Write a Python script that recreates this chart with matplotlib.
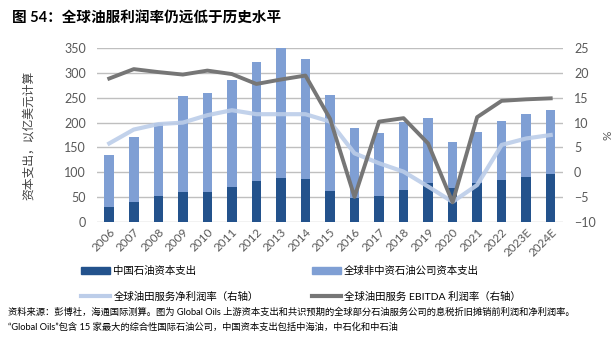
import numpy as np
import matplotlib
matplotlib.use('Agg')
import matplotlib.pyplot as plt
from matplotlib.patches import Patch
from matplotlib.lines import Line2D

plt.rcParams['font.family'] = ['Lato', 'Noto Sans CJK SC', 'DejaVu Sans']

years = ['2006', '2007', '2008', '2009', '2010', '2011', '2012', '2013', '2014', '2015',
         '2016', '2017', '2018', '2019', '2020', '2021', '2022', '2023E', '2024E']
china_capex = [30, 40, 52, 59, 59, 71, 82, 88, 86, 61, 48, 52, 64, 79, 69, 79, 84, 90, 96]
other_capex = [104, 131, 148, 194, 201, 215, 241, 262, 243, 195, 141, 127, 137, 131, 91, 102, 119, 128, 130]
net_margin = [5.8, 8.6, 9.7, 10.0, 11.5, 12.5, 11.7, 11.7, 11.7, 10.2, 3.8, 1.8, 0.1, -2.9, -6.0, -2.6, 5.5, 6.8, 7.5]
ebitda_margin = [18.9, 20.8, 20.2, 19.7, 20.5, 19.8, 17.8, 18.7, 19.5, 10.8, -5.0, 10.2, 10.9, 5.8, -6.1, 11.1, 14.4, 14.7, 14.9]

c_dark = '#23528c'
c_light = '#7f9fd4'
c_net = '#bccde9'
c_ebitda = '#767676'
c_tick = '#595959'

fig = plt.figure(figsize=(6.15, 3.47), dpi=100)
ax = fig.add_axes([0.1577, 0.3611, 0.7577, 0.4997])
x = np.arange(len(years))
w = 0.39
ax.bar(x, china_capex, w, color=c_dark, zorder=2)
ax.bar(x, other_capex, w, bottom=china_capex, color=c_light, zorder=2)
ax.set_xlim(-0.5, len(years) - 0.5)
ax.set_ylim(0, 350)
ax.set_yticks(range(0, 351, 50))
ax.set_axisbelow(True)
ax.grid(axis='y', color='#bfbfbf', linewidth=1.0)
for s in ax.spines.values():
    s.set_visible(False)
ax.tick_params(length=0, colors=c_tick, labelsize=9)
ax.tick_params(axis='y', pad=8)
ax.set_xticks(x)
ax.set_xticklabels(years, rotation=45, ha='right', rotation_mode='anchor', fontsize=8.5)
ax.set_ylabel('资本支出，以亿美元计算', fontsize=8.5, color='#404040')
ax.yaxis.set_label_coords(-0.135, 0.5)

ax2 = ax.twinx()
ax2.plot(x, net_margin, color=c_net, linewidth=3, alpha=0.9)
ax2.plot(x, ebitda_margin, color=c_ebitda, linewidth=2.8)
ax2.set_ylim(-10, 25)
ax2.set_yticks(range(-10, 26, 5))
for s in ax2.spines.values():
    s.set_visible(False)
ax2.tick_params(length=0, colors=c_tick, labelsize=9, pad=8)
ax2.set_ylabel('%', fontsize=8.5, color=c_tick)
ax2.yaxis.set_label_coords(1.085, 0.5)

handles = [Patch(color=c_dark), Line2D([], [], color=c_net, linewidth=3),
           Patch(color=c_light), Line2D([], [], color=c_ebitda, linewidth=3)]
labels = ['中国石油资本支出', '全球油田服务净利润率（右轴）',
          '全球非中资石油公司资本支出', '全球油田服务 EBITDA 利润率（右轴）']
fig.legend(handles, labels, ncol=2, loc='upper left', bbox_to_anchor=(0.125, 0.245),
           frameon=False, fontsize=7.5, handlelength=2.8, handletextpad=0.3,
           columnspacing=5.1, labelspacing=1.5, borderaxespad=0)

fig.text(0.02, 0.945, '图 54：全球油服利润率仍远低于历史水平', fontsize=10.5, fontweight='bold', va='center')
fig.text(0.013, 0.1, '资料来源：彭博社，海通国际测算。图为 Global Oils 上游资本支出和共识预期的全球部分石油服务公司的息税折旧摊销前利润和净利润率。',
         fontsize=6.7, va='center')
fig.text(0.013, 0.057, '“Global Oils”包含 15 家最大的综合性国际石油公司，中国资本支出包括中海油，中石化和中石油',
         fontsize=6.7, va='center')

fig.savefig('out.png', dpi=100)
